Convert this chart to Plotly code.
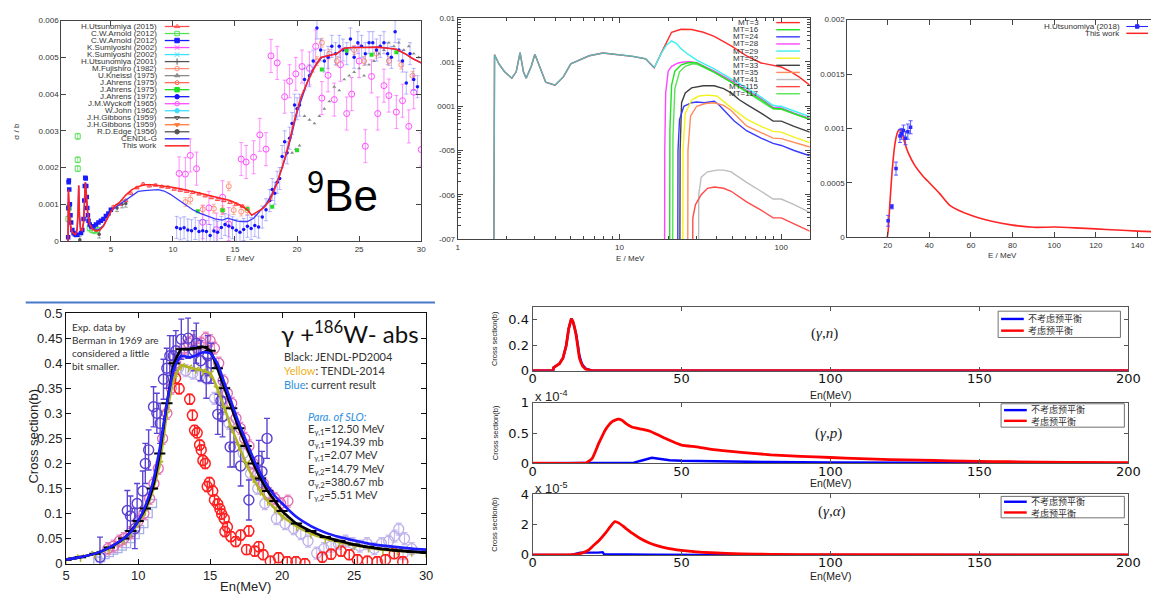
import plotly.graph_objects as go

W, H = 1163, 597

# ---------------- 9Be photo-absorption, 1-30 MeV (top left) ----------------
be_work_e = [1.55, 1.58, 1.62, 1.68, 1.76, 1.88, 2.0, 2.15, 2.28, 2.36, 2.41, 2.47, 2.56, 2.68, 2.8, 2.88, 2.95,
             3.02, 3.12, 3.3, 3.5, 3.8, 4.1, 4.4, 4.7, 5.0, 5.3, 5.7, 6.2, 6.7, 7.2, 7.7, 8.3, 9.0, 9.8, 10.6,
             11.4, 12.2, 13.0, 13.8, 14.6, 15.4, 16.0, 16.35, 16.8, 17.3, 17.8, 18.3, 18.8, 19.3, 19.8, 20.3,
             20.8, 21.3, 21.9, 22.5, 23.2, 23.8, 24.5, 25.5, 26.5, 27.3, 28.0, 28.7, 29.3, 30.0]
be_work = [0.0, 0.0014, 0.0011, 0.0007, 0.0004, 0.00025, 0.0002, 0.00018, 0.0003, 0.0008, 0.00152, 0.0007,
           0.0003, 0.00028, 0.0005, 0.0011, 0.0016, 0.0013, 0.0008, 0.00045, 0.00033, 0.00027, 0.0003, 0.0004,
           0.0006, 0.0008, 0.00095, 0.00105, 0.00125, 0.0014, 0.00148, 0.00153, 0.00153, 0.00151, 0.00147,
           0.00142, 0.00137, 0.0013, 0.00123, 0.00117, 0.0011, 0.00098, 0.00085, 0.0007, 0.0008, 0.0009,
           0.0011, 0.0015, 0.002, 0.0026, 0.0033, 0.0039, 0.0043, 0.00465, 0.005, 0.00505, 0.0051, 0.00525,
           0.00527, 0.00527, 0.00528, 0.00525, 0.00522, 0.0051, 0.00497, 0.00485]

be_cendl_e = [1.55, 1.58, 1.62, 1.68, 1.76, 1.88, 2.0, 2.15, 2.28, 2.36, 2.41, 2.47, 2.56, 2.68, 2.8, 2.88, 2.95,
              3.02, 3.12, 3.3, 3.5, 3.8, 4.1, 4.4, 4.7, 5.0, 5.3, 5.7, 6.2, 6.7, 7.2, 7.7, 8.3, 8.8, 9.3, 9.8,
              10.4, 11.0, 11.6, 12.2, 12.8, 13.4, 14.0, 14.4, 14.8, 15.2, 15.6, 16.0, 16.5, 17.0, 17.5, 18.0,
              18.5, 19.0, 19.5, 20.0, 20.5, 21.0, 21.5, 22.0, 22.5, 23.2, 23.8, 24.5, 25.5, 26.5, 27.3, 28.0,
              28.7, 29.3, 30.0]
be_cendl = [0.0, 0.0013, 0.001, 0.00065, 0.00038, 0.00024, 0.0002, 0.00018, 0.0003, 0.0008, 0.0015, 0.0007,
            0.0003, 0.00028, 0.0005, 0.0011, 0.0016, 0.0013, 0.0008, 0.00045, 0.00035, 0.0003, 0.00033, 0.00042,
            0.0006, 0.0008, 0.0009, 0.001, 0.0011, 0.00125, 0.00135, 0.00137, 0.00138, 0.0014, 0.00136, 0.00127,
            0.00113, 0.00098, 0.00085, 0.00075, 0.00067, 0.0006, 0.00057, 0.00062, 0.00058, 0.00054, 0.00053,
            0.00053, 0.00062, 0.0008, 0.001, 0.0013, 0.0017, 0.0022, 0.0028, 0.0035, 0.004, 0.0045, 0.0048,
            0.005, 0.00505, 0.0051, 0.00525, 0.00527, 0.00527, 0.00528, 0.00525, 0.00522, 0.0051, 0.00497,
            0.00485]

be_u15_e = [5.2, 5.7, 6.2, 6.6, 7.1, 7.6, 8.1, 8.6, 9.1, 9.6, 10.1, 10.6, 11.1, 11.6, 12.1, 12.6, 13.1, 13.6,
            14.1, 14.6, 15.1, 15.6]
be_u15 = [0.00093, 0.001, 0.0011, 0.0013, 0.00145, 0.00155, 0.0015, 0.00152, 0.00148, 0.00146, 0.00141,
          0.00138, 0.00135, 0.00132, 0.00128, 0.00123, 0.00118, 0.00113, 0.0011, 0.00105, 0.001, 0.00095]

be_arn_g_e = [1.58, 1.62, 2.33, 2.33, 2.33, 3.3, 3.5, 3.7, 3.9]
be_arn_g = [0.0006, 0.0009, 0.00285, 0.00221, 0.00197, 0.00035, 0.0003, 0.00028, 0.0003]

be_arn_b_e = [1.56, 1.58, 1.6, 1.62, 1.65, 1.7, 1.75, 1.8, 1.9, 2.0, 2.1, 2.2, 2.3, 2.6, 2.7, 2.8, 2.86, 2.9,
              2.94, 2.98, 3.02, 3.06, 3.1, 3.15, 3.2, 3.3, 3.4, 3.5, 3.6, 3.8, 4.0, 4.2, 4.4, 4.6, 4.8, 5.0]
be_arn_b = [0.0001, 0.0009, 0.0016, 0.00165, 0.0014, 0.001, 0.0007, 0.0005, 0.0003, 0.00022, 0.00018, 0.00016,
            0.00017, 0.00022, 0.0003, 0.0006, 0.0011, 0.0015, 0.00172, 0.0017, 0.0015, 0.0012, 0.0009, 0.0007,
            0.00055, 0.00045, 0.0004, 0.00038, 0.0004, 0.00045, 0.0005, 0.00055, 0.0006, 0.00068, 0.00075,
            0.00085]

be_fuj_e = [11.0, 11.4, 12.4, 13.3, 14.0, 14.5, 14.9, 15.5, 16.0, 21.6, 22.0, 22.6, 23.2, 24.6, 25.4, 26.4,
            27.4, 28.4, 29.3]
be_fuj = [0.00106, 0.00113, 0.00086, 0.00088, 0.00084, 0.00149, 0.00084, 0.0008, 0.00083, 0.0049, 0.0054,
          0.0051, 0.0049, 0.0052, 0.0049, 0.0051, 0.0049, 0.0048, 0.0045]

be_kn_e = [19.6, 19.9, 20.2, 20.6, 21.0, 21.4, 21.8, 22.2, 22.6, 23.0, 23.4, 23.8, 24.2, 24.6, 25.0, 25.4,
           25.8, 26.2, 26.6, 27.0, 27.4, 27.8, 28.2, 28.6, 29.0, 29.4, 29.8]
be_kn = [0.0024, 0.0025, 0.0026, 0.0034, 0.0033, 0.0032, 0.0034, 0.0036, 0.0038, 0.0042, 0.0041, 0.0044,
         0.0045, 0.0046, 0.0047, 0.0045, 0.0048, 0.0049, 0.0051, 0.0052, 0.0054, 0.0053, 0.0054, 0.0052,
         0.0053, 0.0051, 0.005]

be_a75_e = [12.0, 14.0, 16.0, 18.0, 20.0, 22.0, 24.0, 26.0, 28.0]
be_a75 = [0.00081, 0.00084, 0.00087, 0.00093, 0.00247, 0.00467, 0.00519, 0.00507, 0.00514]

be_a72_e = [10.3, 10.6, 10.9, 11.2, 11.5, 11.8, 12.1, 12.4, 12.7, 13.0, 13.3, 13.6, 13.9, 14.2, 14.5, 14.8,
            15.1, 15.4, 15.7, 16.0, 16.3, 16.6, 16.9, 17.2, 17.5, 17.8, 18.0, 18.2, 18.4, 18.6, 18.8, 19.0,
            19.2, 19.4, 19.6, 19.8, 20.0, 20.2, 20.6, 21.0, 21.3, 21.6, 21.9, 22.2, 22.5, 22.8, 23.1, 23.4,
            23.7, 24.0, 24.3, 24.6, 24.9, 25.2, 25.5, 25.8, 26.1, 26.4, 26.7, 27.0, 27.3, 27.6, 27.9, 28.2,
            28.5, 28.8, 29.1, 29.4, 29.7]
be_a72 = [0.00037, 0.00033, 0.00036, 0.0003, 0.00028, 0.00034, 0.00026, 0.00028, 0.00026, 0.00015, 0.00027,
          0.00024, 0.00037, 0.00045, 0.00041, 0.00036, 0.00029, 0.00024, 0.00031, 0.0004, 0.00034, 0.00042,
          0.00038, 0.00065, 0.00085, 0.0011, 0.0014, 0.0013, 0.0016, 0.0017, 0.0023, 0.0027, 0.0024, 0.0028,
          0.0032, 0.0037, 0.0036, 0.0037, 0.0044, 0.0045, 0.0049, 0.0058, 0.0052, 0.0049, 0.005, 0.0053,
          0.0051, 0.0053, 0.0052, 0.0051, 0.0055, 0.005, 0.0054, 0.0053, 0.0051, 0.0054, 0.0054, 0.0052,
          0.0053, 0.0054, 0.0051, 0.005, 0.0057, 0.0052, 0.0049, 0.0043, 0.0051, 0.0044, 0.0042]

be_wyck_e = [10.5, 11.0, 11.4, 11.9, 12.4, 12.9, 13.5, 14.0, 14.5, 15.5, 15.9, 16.5, 17.0, 17.5, 17.9, 18.4,
             19.0, 19.4, 19.9, 20.4, 21.0, 21.5, 22.0, 22.5, 23.0, 23.5, 24.0, 24.4, 25.0, 25.5, 26.0, 26.5,
             27.0, 27.4, 28.0, 28.5, 29.0, 29.4, 30.0]
be_wyck = [0.00184, 0.00182, 0.00233, 0.00197, 0.00051, 0.0009, 0.00031, 0.00119, 0.00046, 0.00223, 0.00215,
           0.00228, 0.00289, 0.0025, 0.00504, 0.00485, 0.00393, 0.00435, 0.00455, 0.00475, 0.0047, 0.0053,
           0.00389, 0.00451, 0.00385, 0.0048, 0.00347, 0.004, 0.0049, 0.00258, 0.00448, 0.00347, 0.00423,
           0.00396, 0.00351, 0.00382, 0.00312, 0.00405, 0.00249]

be_edge_e = [2.5, 4.06, 5.5, 5.9, 6.2]
be_edge = [0.00003, 0.00018, 0.0009, 0.001, 0.00102]

be_ticks_y = [0, 0.001, 0.002, 0.003, 0.004, 0.005, 0.006]
be_ticktext_y = ['0', '0.001', '0.002', '0.003', '0.004', '0.005', '0.006']

# ---------------- partial channels, log-log (top middle) ----------------
mt3_e = [1.67, 1.69, 1.8, 1.95, 2.16, 2.3, 2.43, 2.55, 2.65, 2.85, 3.0, 3.2, 3.5, 4.0, 4.5, 5.0, 5.6, 6.5, 7.9,
         9.5, 12.0, 14.5, 16.4, 18.2, 21.0, 24.0, 27.9, 33.0, 38.5, 49.0, 61.0, 75.0, 89.0, 100.0, 115.0, 130.0,
         150.0]
mt3 = [1e-8, 0.00146, 0.0009, 0.0006, 0.00043, 0.0006, 0.00162, 0.0006, 0.00043, 0.0008, 0.0015, 0.0008,
       0.00035, 0.0003, 0.00046, 0.00091, 0.00107, 0.00138, 0.0016, 0.0015, 0.00134, 0.00118, 0.00074, 0.00165,
       0.0047, 0.0055, 0.0054, 0.0047, 0.0038, 0.0023, 0.00138, 0.00095, 0.00083, 0.00077, 0.0006, 0.00045,
       0.0003]
mt29_e = [16.4, 18.2, 19.5, 21.0, 22.5, 24.0, 26.5, 30.0, 38.5, 49.0, 61.0, 75.0, 89.0, 95.0, 100.0, 120.0, 150.0]
mt29 = [0.00074, 0.0016, 0.0024, 0.003, 0.0026, 0.002, 0.0015, 0.0011, 0.0007, 0.00042, 0.00026, 0.00016,
        0.000105, 0.0001, 0.0001, 0.000078, 0.000058]
mt28_e = [19.0, 19.05, 19.3, 20.0, 21.0, 23.0, 25.0, 27.0, 30.0, 38.5, 49.0, 61.0, 75.0, 89.0, 100.0, 120.0, 150.0]
mt28 = [1e-8, 1e-5, 0.0002, 0.00062, 0.0008, 0.00095, 0.001, 0.00101, 0.00097, 0.00062, 0.00038, 0.00023,
        0.00015, 0.000095, 0.000092, 0.00007, 0.000053]
mt16_e = [20.4, 20.5, 21.0, 22.0, 24.0, 26.0, 28.0, 30.0, 38.5, 49.0, 61.0, 75.0, 89.0, 95.0, 100.0, 120.0, 150.0]
mt16 = [1e-8, 3e-5, 0.0003, 0.00062, 0.00085, 0.00095, 0.00097, 0.00095, 0.00059, 0.00036, 0.00022, 0.00014,
        0.00009, 0.000088, 0.000088, 0.000068, 0.000051]
mt117_e = [21.3, 21.4, 22.0, 23.5, 25.5, 28.0, 30.0, 38.5, 49.0, 61.0, 75.0, 89.0, 100.0, 120.0, 150.0]
mt117 = [1e-8, 2e-5, 0.00025, 0.0006, 0.0008, 0.0009, 0.0009, 0.00058, 0.00035, 0.00021, 0.00013, 0.000087,
         0.000085, 0.000066, 0.00005]
mt33_e = [23.6, 23.7, 24.2, 25.5, 27.9, 33.0, 38.5, 44.0, 49.0, 55.0, 61.0, 75.0, 89.0, 100.0, 120.0, 150.0]
mt33 = [1e-8, 1e-5, 0.00012, 0.0002, 0.00026, 0.00029, 0.00029, 0.00025, 0.0002, 0.00014, 0.00011, 0.00007,
        0.000046, 0.000046, 0.000035, 0.000026]
mt24_e = [22.9, 23.0, 23.5, 25.0, 27.9, 30.0, 33.5, 36.0, 38.5, 41.0, 44.0, 51.0, 61.0, 75.0, 89.0, 100.0, 120.0,
          150.0]
mt24 = [1e-8, 1e-5, 5e-5, 0.0001, 0.00012, 0.000125, 0.00012, 0.000125, 0.00013, 0.00011, 0.000085, 0.000047,
        0.000028, 0.000019, 0.0000145, 0.000013, 0.00001, 0.0000076]
mt32_e = [24.6, 24.7, 25.5, 28.0, 31.0, 35.0, 40.0, 49.0, 61.0, 75.0, 89.0, 100.0, 120.0, 150.0]
mt32 = [1e-8, 1e-5, 7e-5, 0.00014, 0.00017, 0.000178, 0.00017, 0.000093, 0.000051, 0.000035, 0.000027, 0.000026,
        0.00002, 0.000015]
mt35_e = [26.4, 26.5, 27.5, 30.0, 34.0, 38.5, 44.0, 49.0, 61.0, 75.0, 89.0, 100.0, 120.0, 150.0]
mt35 = [1e-8, 1e-5, 6e-5, 0.0001, 0.000115, 0.00012, 0.000105, 0.00008, 0.000036, 0.000025, 0.000019, 0.0000185,
        0.000015, 0.000012]
mt41_e = [30.8, 30.9, 32.0, 35.0, 40.0, 44.0, 49.0, 61.0, 75.0, 89.0, 100.0, 120.0, 150.0]
mt41 = [1e-8, 1e-6, 2.5e-6, 3.3e-6, 3.6e-6, 3.6e-6, 3.3e-6, 1.9e-6, 1.2e-6, 8e-7, 8e-7, 6e-7, 4e-7]
mt115_e = [28.3, 28.4, 29.5, 32.0, 35.0, 38.5, 44.0, 49.0, 61.0, 75.0, 89.0, 100.0, 120.0, 150.0]
mt115 = [1e-8, 3e-7, 6e-7, 1e-6, 1.4e-6, 1.5e-6, 1.4e-6, 1.2e-6, 6.9e-7, 4.5e-7, 3e-7, 3e-7, 2.2e-7, 1.5e-7]

mt_ticks_y = [1e-7, 1e-6, 1e-5, 1e-4, 1e-3, 1e-2]
mt_ticktext_y = ['-007', '-006', '-005', '0001', '.001', '0.01']

# ---------------- high-energy channel (top right) ----------------
hi_e = [19.8, 20.2, 21.1, 22.2, 23.5, 24.5, 25.2, 26.0, 27.0, 28.0, 30.0, 33.0, 37.0, 40.0, 45.0, 50.0, 60.0,
        70.0, 80.0, 90.0, 100.0, 110.0, 120.0, 130.0, 140.0, 147.0]
hi_work = [0.0, 0.00005, 0.00032, 0.00062, 0.00086, 0.00095, 0.00098, 0.00099, 0.00095, 0.00088, 0.00077,
           0.00066, 0.00056, 0.0005, 0.0004, 0.00029, 0.0002, 0.000145, 0.00011, 0.00009, 0.000092, 0.000085,
           0.000075, 0.000065, 0.000055, 0.00005]
hi_u18_e = [20.2, 22.0, 24.0, 25.9, 26.6, 27.6, 28.6, 29.7, 31.0]
hi_u18 = [0.00015, 0.00028, 0.00063, 0.00093, 0.00095, 0.00098, 0.00091, 0.00097, 0.00101]
hi_u18_err = [0.00005, 0.00002, 0.00006, 0.00006, 0.00005, 0.00005, 0.00006, 0.00007, 0.00006]

# ---------------- gamma + 186W absorption (bottom left) ----------------
w_calc_e = [5, 6, 7, 8, 9, 9.5, 10, 10.5, 11, 11.5, 12, 12.5, 13, 13.5, 14, 14.5, 15, 15.5, 16, 16.5, 17,
            17.5, 18, 18.5, 19, 19.5, 20, 21, 22, 23, 24, 25, 26, 27, 28, 29, 30]
w_jendl = [0.008, 0.013, 0.02, 0.032, 0.05, 0.065, 0.085, 0.11, 0.15, 0.22, 0.32, 0.4, 0.428, 0.428, 0.43,
           0.433, 0.425, 0.39, 0.35, 0.31, 0.27, 0.235, 0.2, 0.17, 0.145, 0.125, 0.105, 0.08, 0.065, 0.053,
           0.045, 0.038, 0.033, 0.029, 0.026, 0.024, 0.022]
w_tendl = [0.008, 0.013, 0.02, 0.03, 0.048, 0.062, 0.08, 0.105, 0.145, 0.2, 0.3, 0.37, 0.395, 0.392, 0.388,
           0.385, 0.38, 0.35, 0.31, 0.27, 0.235, 0.2, 0.17, 0.145, 0.125, 0.11, 0.095, 0.075, 0.06, 0.05, 0.043,
           0.037, 0.032, 0.028, 0.026, 0.024, 0.022]
w_current = [0.008, 0.013, 0.02, 0.032, 0.05, 0.064, 0.085, 0.115, 0.16, 0.23, 0.32, 0.39, 0.415, 0.412, 0.415,
             0.422, 0.42, 0.4, 0.36, 0.32, 0.28, 0.245, 0.21, 0.18, 0.155, 0.135, 0.12, 0.093, 0.075, 0.062,
             0.053, 0.046, 0.04, 0.036, 0.033, 0.03, 0.028]

w_berman_e = [12.6, 12.85, 13.58, 13.77, 13.92, 14.1, 14.27, 14.38, 14.5, 14.66, 14.8, 14.95, 15.18, 15.3,
              15.53, 15.68, 15.8, 15.98, 16.03, 16.2, 16.44, 16.78, 17.12, 17.53, 17.69, 18.1, 18.38, 18.68,
              19.18, 19.75, 20.36, 20.96, 21.58, 22.79, 23.4, 24.09, 24.66, 25.23, 25.92, 26.6, 27.17, 27.79,
              28.38]
w_berman = [0.37, 0.349, 0.328, 0.296, 0.266, 0.261, 0.237, 0.227, 0.206, 0.2, 0.154, 0.162, 0.145, 0.127,
            0.119, 0.109, 0.099, 0.09, 0.064, 0.073, 0.054, 0.044, 0.057, 0.028, 0.065, 0.025, 0.034, 0.018,
            0.005, 0.012, 0.004, 0.004, 0.0, 0.013, 0.019, 0.025, 0.018, 0.008, 0.005, 0.004, 0.008, 0.02, 0.004]

w_exp1_e = [7.35, 9.25, 9.47, 9.77, 9.93, 10.32, 10.5, 10.73, 11.07, 11.3, 11.53, 11.76, 11.99, 12.2, 12.44,
            12.62, 13.0, 13.47, 13.88, 14.04, 14.34, 14.73, 14.84, 15.07, 15.53, 15.75, 15.86, 16.39, 16.66,
            17.12, 17.69, 18.38, 18.6, 18.95]
w_exp1 = [0.013, 0.106, 0.095, 0.07, 0.12, 0.145, 0.2, 0.227, 0.313, 0.3, 0.28, 0.368, 0.39, 0.415, 0.415,
          0.425, 0.448, 0.45, 0.425, 0.44, 0.405, 0.37, 0.415, 0.4, 0.298, 0.325, 0.293, 0.233, 0.233, 0.195,
          0.127, 0.206, 0.184, 0.25]

w_exp2_e = [7.9, 8.3, 8.7, 9.0, 9.5, 10.0, 10.4, 10.8, 11.1, 11.4, 11.7, 12.0, 12.3, 12.6, 12.9, 13.2, 13.5,
            13.8, 14.1, 14.4, 14.7, 15.0, 15.3, 15.6, 15.9, 16.2, 16.5, 16.8, 17.1, 17.4, 17.7, 18.0, 18.3,
            18.7, 19.1, 19.5, 19.9, 20.4]
w_exp2 = [0.03, 0.035, 0.045, 0.05, 0.062, 0.085, 0.1, 0.13, 0.16, 0.19, 0.25, 0.3, 0.35, 0.4, 0.42, 0.43,
          0.44, 0.445, 0.43, 0.44, 0.45, 0.445, 0.43, 0.4, 0.365, 0.34, 0.32, 0.29, 0.27, 0.25, 0.235, 0.2,
          0.18, 0.16, 0.14, 0.13, 0.12, 0.125]

w_exp3_e = [12.3, 12.8, 13.3, 13.8, 14.3, 14.8, 15.3, 15.8, 16.3, 17.3, 17.8, 18.3, 18.8, 19.6, 20.2, 20.8,
            21.3, 21.8, 22.4, 22.9, 23.4, 23.9, 24.4, 24.9, 25.4, 25.9, 26.4, 26.9, 27.4, 27.8, 28.1, 28.4,
            28.5, 29.0]
w_exp3 = [0.37, 0.39, 0.385, 0.38, 0.375, 0.37, 0.33, 0.31, 0.28, 0.22, 0.18, 0.15, 0.12, 0.09, 0.08, 0.07,
          0.06, 0.045, 0.021, 0.03, 0.035, 0.04, 0.045, 0.04, 0.035, 0.04, 0.03, 0.04, 0.045, 0.055, 0.069,
          0.02, 0.05, 0.03]

w_exp4_e = [7.2, 7.4, 7.7, 8.0, 8.3, 8.6, 8.9, 9.2, 9.5, 9.8, 10.1, 10.4, 10.7, 11.0]
w_exp4 = [0.005, 0.012, 0.018, 0.022, 0.027, 0.03, 0.035, 0.04, 0.05, 0.058, 0.068, 0.08, 0.1, 0.12]

w_ticks_y = [0, 0.05, 0.1, 0.15, 0.2, 0.25, 0.3, 0.35, 0.4, 0.45, 0.5]
w_ticktext_y = ['0', '0.05', '0.1', '0.15', '0.2', '0.25', '0.3', '0.35', '0.4', '0.45', '0.5']

# ---------------- pre-equilibrium comparison (bottom right) ----------------
gn_e = [0, 6.9, 7.05, 7.9, 9.0, 10.2, 11.3, 12.1, 12.6, 13.0, 13.5, 14.0, 14.6, 15.2, 15.7, 16.3, 16.8, 17.9,
        19.0, 20.0, 200]
gn_pe = [0, 0, 0.025, 0.036, 0.055, 0.1, 0.2, 0.33, 0.39, 0.41, 0.39, 0.35, 0.28, 0.18, 0.1, 0.06, 0.035, 0.01,
         0.002, 0, 0]
gn_nope = [0, 0, 0.025, 0.036, 0.055, 0.1, 0.2, 0.33, 0.39, 0.41, 0.39, 0.35, 0.29, 0.2, 0.12, 0.07, 0.045,
           0.015, 0.004, 0, 0]

# (gamma,p) in units of 1e-4 b
gp_e = [0, 17, 18, 20, 22.3, 24.5, 26.7, 28.7, 30, 31.5, 33.3, 36, 39.4, 42, 45, 50, 55, 60, 70, 80, 90, 100,
        110, 120, 130, 140, 150, 160, 180, 200]
gp_pe = [0, 0, 0.005, 0.08, 0.34, 0.56, 0.69, 0.73, 0.71, 0.65, 0.6, 0.57, 0.53, 0.47, 0.4, 0.3, 0.27, 0.23,
         0.18, 0.14, 0.115, 0.095, 0.075, 0.06, 0.05, 0.04, 0.03, 0.025, 0.015, 0.01]
gp_nope_e = [0, 20, 22, 34, 37, 40, 43, 46, 50, 60, 80, 100, 120, 160, 200]
gp_nope = [0, 0, 0.01, 0.01, 0.05, 0.09, 0.07, 0.05, 0.04, 0.03, 0.02, 0.012, 0.008, 0.004, 0.002]

# (gamma,alpha) in units of 1e-5 b
ga_e = [0, 12, 15, 17, 19, 20.1, 22.3, 24.5, 26, 27.6, 29, 31, 33.3, 36, 39, 42, 45, 50, 55, 60, 70, 80, 100, 200]
ga_pe = [0, 0, 0.05, 0.15, 0.35, 0.56, 0.95, 1.45, 1.85, 2.2, 2.1, 1.8, 1.45, 1.1, 0.8, 0.6, 0.45, 0.3, 0.2,
         0.14, 0.07, 0.035, 0.01, 0]
ga_nope_e = [0, 13, 15, 16, 22, 23, 23.5, 24, 30, 35, 40, 60, 200]
ga_nope = [0, 0, 0.1, 0.15, 0.15, 0.2, 0.18, 0.05, 0.03, 0.02, 0.01, 0, 0]

pe_labels = ['不考虑预平衡', '考虑预平衡']

fig = go.Figure()


def trace(x, y, xa, ya, **kw):
    fig.add_trace(go.Scatter(x=x, y=y, xaxis=xa, yaxis=ya, showlegend=False, hoverinfo='skip', **kw))


def cerr(v, color, width=0.8, cap=2):
    return dict(type='constant', value=v, color=color, thickness=width, width=cap)


def xdom(a, b):
    return [a / W, b / W]


def ydom(top, bottom):
    return [1 - bottom / H, 1 - top / H]


# ---- top-left panel ----
trace(be_wyck_e, be_wyck, 'x', 'y', mode='markers',
      marker=dict(symbol='circle-open', size=6, color='#ff4dff', line=dict(width=1)),
      error_y=cerr(0.00045, 'rgba(255,90,255,0.75)', 0.9, 2))
trace(be_fuj_e, be_fuj, 'x', 'y', mode='markers',
      marker=dict(symbol='circle-open', size=5, color='#ff8f77', line=dict(width=1)),
      error_y=cerr(0.00012, 'rgba(255,140,120,0.8)', 0.8, 2))
trace(be_kn_e, be_kn, 'x', 'y', mode='markers',
      marker=dict(symbol='triangle-up', size=3.5, color='#8a8a8a'))
trace(be_a72_e, be_a72, 'x', 'y', mode='markers',
      marker=dict(symbol='circle', size=3.5, color='#1414ff'),
      error_y=cerr(0.0003, 'rgba(110,110,255,0.55)', 0.9, 2))
trace(be_a75_e, be_a75, 'x', 'y', mode='markers', marker=dict(symbol='square', size=4, color='#22dd22'))
trace(be_arn_g_e, be_arn_g, 'x', 'y', mode='markers',
      marker=dict(symbol='square-open', size=5, color='#55e055', line=dict(width=1)),
      error_y=cerr(0.00008, 'rgba(80,220,80,0.8)', 0.8, 2))
trace(be_edge_e, be_edge, 'x', 'y', mode='markers', marker=dict(symbol='circle', size=3.5, color='#555555'),
      error_y=cerr(0.0001, 'rgba(90,90,90,0.7)', 0.8, 2))
trace(be_u15_e, be_u15, 'x', 'y', mode='markers',
      marker=dict(symbol='triangle-up-open', size=4, color='#ff5050', line=dict(width=1)),
      error_y=cerr(0.00003, 'rgba(255,80,80,0.8)', 0.8, 2))
trace(be_arn_b_e, be_arn_b, 'x', 'y', mode='markers', marker=dict(symbol='square', size=4.5, color='#1a1aff'))
trace(be_cendl_e, be_cendl, 'x', 'y', mode='lines', line=dict(color='#3b3bff', width=1.3))
trace(be_work_e, be_work, 'x', 'y', mode='lines', line=dict(color='#ff2222', width=1.6))

# ---- top-middle panel (log-log) ----
mt_curves = [
    (mt3_e, mt3, '#ff2a2a'), (mt28_e, mt28, '#ff44ff'), (mt29_e, mt29, '#3ff0f0'),
    (mt117_e, mt117, '#55e455'), (mt16_e, mt16, '#22e022'), (mt33_e, mt33, '#404040'),
    (mt24_e, mt24, '#3a3aff'), (mt32_e, mt32, '#f2f21c'), (mt35_e, mt35, '#ff8c5a'),
    (mt41_e, mt41, '#bdbdbd'), (mt115_e, mt115, '#ff4a4a'),
]
for e, v, c in mt_curves:
    trace(e, v, 'x2', 'y2', mode='lines', line=dict(color=c, width=1.4))
shared = [(e, v) for e, v in zip(mt3_e, mt3) if e <= 16.4]
trace([p[0] for p in shared], [p[1] for p in shared], 'x2', 'y2', mode='lines',
      line=dict(color='#5fb2b6', width=1.5))

# ---- top-right panel ----
trace(hi_e, hi_work, 'x3', 'y3', mode='lines', line=dict(color='#ff2424', width=1.6, shape='spline', smoothing=0.6))
trace(hi_u18_e, hi_u18, 'x3', 'y3', mode='markers', marker=dict(symbol='square', size=3.5, color='#2a2aff'),
      error_y=dict(type='data', array=hi_u18_err, color='#4a4aff', thickness=0.9, width=2))

# ---- bottom-left panel ----
trace(w_exp4_e, w_exp4, 'x4', 'y4', mode='markers',
      marker=dict(symbol='square-open', size=8, color='#a9afe8', line=dict(width=1.3)))
trace(w_exp3_e, w_exp3, 'x4', 'y4', mode='markers',
      marker=dict(symbol='circle-open', size=10, color='#bcaee8', line=dict(width=1.3)),
      error_y=cerr(0.012, '#c8bdf0', 1.2, 3))
trace(w_exp2_e, w_exp2, 'x4', 'y4', mode='markers',
      marker=dict(symbol='circle-open', size=10, color='#e06ab2', line=dict(width=1.3)),
      error_y=cerr(0.012, '#e98cc6', 1.2, 3))
trace(w_exp1_e, w_exp1, 'x4', 'y4', mode='markers',
      marker=dict(symbol='circle-open', size=10, color='#5a3fd0', line=dict(width=1.4)),
      error_y=cerr(0.04, '#5d45d2', 1.4, 3))
trace(w_berman_e, w_berman, 'x4', 'y4', mode='markers',
      marker=dict(symbol='circle-open', size=10, color='#ff2020', line=dict(width=1.5)),
      error_y=cerr(0.01, '#ff2020', 1.4, 3))
trace(w_calc_e, w_tendl, 'x4', 'y4', mode='lines+markers',
      line=dict(color='#b3b326', width=2.6, shape='spline', smoothing=0.5),
      marker=dict(symbol='y-down', size=6, color='#b3b326', line=dict(color='#b3b326', width=1.5)))
trace(w_calc_e, w_jendl, 'x4', 'y4', mode='lines+markers',
      line=dict(color='#000000', width=2.6, shape='spline', smoothing=0.5),
      marker=dict(symbol='line-ew', size=8, color='#000000', line=dict(color='#000000', width=2)))
trace(w_calc_e, w_current, 'x4', 'y4', mode='lines',
      line=dict(color='#1c1cff', width=2.6, shape='spline', smoothing=0.5))

# ---- bottom-right panels ----
trace(gn_e, gn_nope, 'x5', 'y5', mode='lines', line=dict(color='#0000ff', width=2.4))
trace(gn_e, gn_pe, 'x5', 'y5', mode='lines', line=dict(color='#ff0000', width=2.8))
trace(gp_nope_e, gp_nope, 'x6', 'y6', mode='lines', line=dict(color='#0000ff', width=2.4))
trace(gp_e, gp_pe, 'x6', 'y6', mode='lines', line=dict(color='#ff0000', width=2.8, shape='spline', smoothing=0.5))
trace(ga_nope_e, ga_nope, 'x7', 'y7', mode='lines', line=dict(color='#0000ff', width=2.4))
trace(ga_e, ga_pe, 'x7', 'y7', mode='lines', line=dict(color='#ff0000', width=2.8, shape='spline', smoothing=0.5))

# ---- hand-drawn keys on a full-page pixel axis ----
ann = []
shp = []


def text(x, y, s, size, xanchor='center', color='#333333', family='Liberation Sans', angle=0, yanchor='middle',
         align='center'):
    ann.append(dict(x=x / W, y=1 - y / H, xref='paper', yref='paper', text=s, showarrow=False, xanchor=xanchor,
                    yanchor=yanchor, textangle=angle, align=align, borderpad=0,
                    font=dict(size=size, color=color, family=family)))


def key_sample(x0, x1, y, color, symbol=None, width=1.3, msize=5):
    trace([x0, x1], [y, y], 'x8', 'y8', mode='lines', line=dict(color=color, width=width))
    if symbol:
        trace([(x0 + x1) / 2], [y], 'x8', 'y8', mode='markers',
              marker=dict(symbol=symbol, size=msize, color=color, line=dict(color=color, width=1)))


be_key = [
    ('H.Utsunomiya (2015)', '#ff5050', 'triangle-up-open'),
    ('C.W.Arnold (2012)', '#55e055', 'square-open'),
    ('C.W.Arnold (2012)', '#1a1aff', 'square'),
    ('K.Sumiyoshi (2002)', '#ff4dff', 'x-thin-open'),
    ('K.Sumiyoshi (2002)', '#3fdfff', 'x-thin-open'),
    ('H.Utsunomiya (2001)', '#555555', 'cross-thin-open'),
    ('M.Fujishiro (1982)', '#ff8f77', 'circle-open'),
    ('U.Kneissl (1975)', '#8a8a8a', 'triangle-up'),
    ('J.Ahrens (1975)', '#ff6a5a', 'pentagon-open'),
    ('J.Ahrens (1975)', '#22dd22', 'square'),
    ('J.Ahrens (1972)', '#1414ff', 'circle'),
    ('J.M.Wyckoff (1965)', '#ff4dff', 'circle-open'),
    ('W.John (1962)', '#3fdfff', 'circle'),
    ('J.H.Gibbons (1959)', '#555555', 'triangle-down-open'),
    ('J.H.Gibbons (1959)', '#ff7a3a', 'triangle-down'),
    ('R.D.Edge (1956)', '#555555', 'circle'),
    ('CENDL-G', '#3b3bff', None),
    ('This work', '#ff2222', None),
]
for i, (lab, col, sym) in enumerate(be_key):
    yy = 20 + 7.2 * i
    text(156, yy, lab, 8, xanchor='right')
    key_sample(163, 188, yy, col, sym, width=1.3 if sym else 1.5, msize=4.5)

mt_key = [('MT=3', '#ff2a2a'), ('MT=16', '#22e022'), ('MT=24', '#3a3aff'), ('MT=28', '#ff44ff'),
          ('MT=29', '#3ff0f0'), ('MT=32', '#f2f21c'), ('MT=33', '#404040'), ('MT=35', '#ff8c5a'),
          ('MT=41', '#bdbdbd'), ('MT=115', '#ff4a4a'), ('MT=117', '#55e455')]
for i, (lab, col) in enumerate(mt_key):
    yy = 16 + 7.3 * i
    text(767, yy, lab, 8, xanchor='right')
    key_sample(783, 807, yy, col, None, width=1.4)

text(1133, 20, 'H.Utsunomiya (2018)', 8, xanchor='right')
key_sample(1138, 1160, 20, '#2a2aff', 'square', width=1.1, msize=3.5)
text(1133, 27, 'This work', 8, xanchor='right')
key_sample(1138, 1160, 27, '#ff2424', None, width=1.5)

# axis titles and captions, top row
text(13, 127, 'σ / b', 8, angle=-90)
text(240, 258, 'E / MeV', 8)
text(343, 190, '<sup>9</sup>Be', 44, color='#000000', family='Liberation Sans')
text(635, 258, 'E / MeV', 8)
text(1012, 255, 'E / MeV', 8)

# bottom-left captions
text(30, 440, 'Cross section(b)', 13, angle=-90, color='#222222')
text(245, 594, 'En(MeV)', 13, color='#222222')
text(68, 321, 'Exp. data by<br>Berman in 1969 are<br>considered a little<br>bit smaller.', 10, xanchor='left',
     yanchor='top', align='left', family='Lato', color='#333333')
text(280, 333, 'γ +<sup>186</sup>W- abs', 24, xanchor='left', family='Lato', color='#111111')
text(283, 358, 'Black: JENDL-PD2004', 11, xanchor='left', family='Lato', color='#333333')
text(283, 373, '<span style="color:#f0b21c">Yellow</span>: TENDL-2014', 11, xanchor='left', family='Lato',
     color='#333333')
text(283, 387, '<span style="color:#2f8fe0">Blue</span>: current result', 11, xanchor='left', family='Lato',
     color='#333333')
text(307, 420, '<i>Para. of SLO:</i>', 11, xanchor='left', family='Lato', color='#2f8fe0')
slo_lines = ['E<sub>γ,1</sub>=12.50 MeV', 'σ<sub>γ,1</sub>=194.39 mb', 'Γ<sub>γ,1</sub>=2.07 MeV',
             'E<sub>γ,2</sub>=14.79 MeV', 'σ<sub>γ,2</sub>=380.67 mb', 'Γ<sub>γ,2</sub>=5.51 MeV']
for i, s in enumerate(slo_lines):
    text(307, 433 + 13.7 * i, s, 11, xanchor='left', family='Lato', color='#333333')

# bottom-right captions: (plot top, plot bottom, title y, label, label x, label y, exponent,
#                         key box top, key box bottom, key box left, key box right, key row ys)
panel_rows = [(308, 373, 398, '(<i>γ</i>,<i>n</i>)', 832, 335, None, 312, 339, 1008, 1132, (320, 332)),
              (406, 468, 488, '(<i>γ</i>,<i>p</i>)', 836, 437, '-4', 407, 431, 1011, 1136, (413.5, 424.5)),
              (500, 562, 584, '(<i>γ</i>,<i>α</i>)', 840, 517, '-5', 502, 524, 1011, 1136, (507.5, 518.5))]
for top, bot, xt, lab, lx, ly, expo, kt, kb, kl, kr, rows in panel_rows:
    text(498, (top + bot) / 2, 'Cross section(b)', 7.5, angle=-90, color='#222222')
    text(838, xt, 'En(MeV)', 10.5, color='#222222')
    text(lx, ly, lab, 15, family='Liberation Serif', color='#222222')
    if expo:
        text(537, top - 7, 'x 10<sup>%s</sup>' % expo, 13, xanchor='left', color='#222222')
    shp.append(dict(type='rect', xref='paper', yref='paper', x0=kl / W, x1=kr / W, y0=1 - kb / H, y1=1 - kt / H,
                    line=dict(color='#707070', width=1), fillcolor='white'))
    for yy, col in zip(rows, ['#0000ff', '#ff0000']):
        shp.append(dict(type='line', xref='paper', yref='paper', x0=(kl + 3) / W, x1=(kl + 26) / W,
                        y0=1 - yy / H, y1=1 - yy / H, line=dict(color=col, width=2.4)))
    # both key entries set as one two-line block
    text(kl + 29, (rows[0] + rows[1]) / 2, '<br>'.join(pe_labels), 9, xanchor='left', align='left',
         family='Noto Sans CJK SC', color='#333333')

# divider between the upper and lower rows
shp.append(dict(type='line', xref='paper', yref='paper', x0=22 / W, x1=437 / W, y0=1 - 303 / H, y1=1 - 303 / H,
                line=dict(color='#4a78c8', width=2)))

gnu = dict(showline=True, linecolor='#444444', linewidth=1, mirror='ticks', ticks='inside', ticklen=5,
           tickwidth=1, tickcolor='#444444', showgrid=False, zeroline=False, fixedrange=True,
           tickfont=dict(family='Liberation Sans', size=8, color='#333333'))
wax = dict(showline=True, linecolor='#111111', linewidth=1.3, mirror='ticks', ticks='inside', ticklen=5,
           tickwidth=1.2, tickcolor='#111111', showgrid=False, zeroline=False, fixedrange=True,
           tickfont=dict(family='Liberation Sans', size=13, color='#222222'))
mat = dict(showline=True, linecolor='#555555', linewidth=1, mirror='ticks', ticks='inside', ticklen=4,
           tickwidth=1, tickcolor='#555555', showgrid=False, zeroline=False, fixedrange=True,
           tickfont=dict(family='DejaVu Sans', size=13, color='#111111'))
logminor = dict(ticks='inside', ticklen=3, tickcolor='#444444', dtick='D1', showgrid=False)

fig.update_layout(
    width=W, height=H, margin=dict(l=0, r=0, t=0, b=0), autosize=False,
    paper_bgcolor='white', plot_bgcolor='rgba(0,0,0,0)', showlegend=False,
    xaxis=dict(gnu, domain=xdom(58, 423), range=[1, 30], anchor='y', tickvals=[5, 10, 15, 20, 25, 30]),
    yaxis=dict(gnu, domain=ydom(14, 240), range=[0, 0.006], anchor='x', tickvals=be_ticks_y,
               ticktext=be_ticktext_y),
    xaxis2=dict(gnu, type='log', domain=xdom(460, 817), range=[0, 2.176], anchor='y2', tickvals=[1, 10, 100],
                ticktext=['1', '10', '100'], minor=logminor),
    yaxis2=dict(gnu, type='log', domain=ydom(11, 238), range=[-7, -2], anchor='x2', tickvals=mt_ticks_y,
                ticktext=mt_ticktext_y, minor=logminor),
    xaxis3=dict(gnu, domain=xdom(855, 1163), range=[0.57, 146.5], anchor='y3',
                tickvals=[20, 40, 60, 80, 100, 120, 140]),
    yaxis3=dict(gnu, mirror=False, domain=ydom(13, 236), range=[0, 0.002], anchor='x3',
                tickvals=[0, 0.0005, 0.001, 0.0015, 0.002], ticktext=['0', '0.0005', '0.001', '0.0015', '0.002']),
    xaxis4=dict(wax, domain=xdom(63, 428), range=[5, 30], anchor='y4', tickvals=[5, 10, 15, 20, 25, 30]),
    yaxis4=dict(wax, domain=ydom(314, 571), range=[0, 0.5], anchor='x4', tickvals=w_ticks_y,
                ticktext=w_ticktext_y),
    xaxis5=dict(mat, domain=xdom(536, 1140), range=[0, 200], anchor='y5', tickvals=[0, 50, 100, 150, 200],
                ticklabelstandoff=-4),
    yaxis5=dict(mat, domain=ydom(308, 373), range=[0, 0.5], anchor='x5', tickvals=[0, 0.2, 0.4],
                ticktext=['0', '0.2', '0.4']),
    xaxis6=dict(mat, domain=xdom(536, 1140), range=[0, 200], anchor='y6', tickvals=[0, 50, 100, 150, 200],
                ticklabelstandoff=-4),
    yaxis6=dict(mat, domain=ydom(406, 468), range=[0, 1], anchor='x6', tickvals=[0, 0.5, 1],
                ticktext=['0', '0.5', '1']),
    xaxis7=dict(mat, domain=xdom(536, 1140), range=[0, 200], anchor='y7', tickvals=[0, 50, 100, 150, 200],
                ticklabelstandoff=-4),
    yaxis7=dict(mat, domain=ydom(500, 562), range=[0, 4], anchor='x7', tickvals=[0, 2, 4],
                ticktext=['0', '2', '4']),
    xaxis8=dict(domain=[0, 1], range=[0, W], anchor='y8', visible=False, fixedrange=True),
    yaxis8=dict(domain=[0, 1], range=[H, 0], anchor='x8', visible=False, fixedrange=True),
    annotations=ann, shapes=shp,
)

fig.write_html('out.html', config={'displayModeBar': False})
